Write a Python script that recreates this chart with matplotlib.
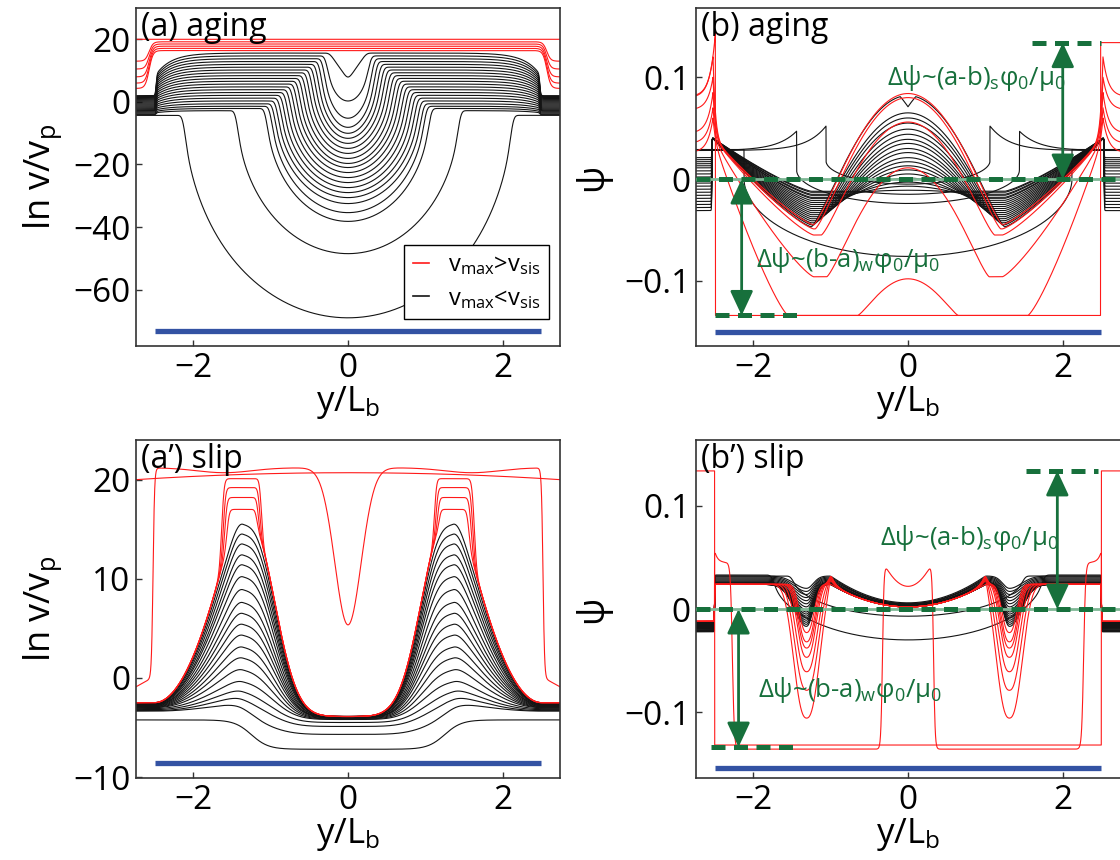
import numpy as np
import matplotlib
matplotlib.use("Agg")
import matplotlib.pyplot as plt
from matplotlib.lines import Line2D

plt.rcParams['font.family'] = ['Open Sans', 'DejaVu Sans']
plt.rcParams['mathtext.fontset'] = 'custom'
plt.rcParams['mathtext.rm'] = 'Open Sans'
plt.rcParams['mathtext.it'] = 'Open Sans'
plt.rcParams['mathtext.default'] = 'regular'

# ------------------------------------------------------------------ values
x_ticks = [-2, 0, 2]
x_limit = 2.74
fault_half = 2.5

# (a) aging law, ln(v/vp); black = slow snapshots, red = fast snapshots
aging_plateau = [15.6, 14.7, 13.8, 12.9, 12.0, 11.1, 10.2, 9.3, 8.4, 7.5, 6.6, 5.7,
                 4.8, 3.9, 3.0, 2.1, 1.2, 0.3, -0.6, -1.4, -2.1, -2.8, -4.3]
aging_floor = [7.1, 0.2, -5.3, -8.2, -10.1, -11.7, -13.3, -14.9, -16.5, -18.1, -19.7,
               -21.0, -22.6, -24.2, -25.8, -27.4, -29.0, -30.6, -32.5, -35.4, -38.2,
               -48.5, -69.0]
aging_halfwidth = [0.24, 0.28, 0.32, 0.36, 0.40, 0.44, 0.48, 0.52, 0.56, 0.60, 0.64,
                   0.68, 0.72, 0.76, 0.80, 0.84, 0.88, 0.92, 0.96, 1.00, 1.06, 1.44, 2.12]
aging_edge = [2.0, 1.7, 1.4, 1.1, 0.8, 0.5, 0.2, -0.1, -0.4, -0.7, -1.0, -1.3, -1.6,
              -1.9, -2.2, -2.5, -2.8, -3.0, -3.3, -3.6, -3.9, -4.1, -4.3]
aging_red_plateau = [20.0, 19.2, 18.5, 17.8, 17.1, 16.4]
aging_red_edge = [20.0, 13.0, 10.5, 8.0, 6.0, 4.3]
aging_bar = -73.1

# (b) aging law, psi
aging_psi_peak = [0.082, 0.065, 0.060, 0.055, 0.049, 0.044, 0.039, 0.035, 0.030, 0.026,
                  0.021, 0.017, 0.013, 0.009, 0.005, 0.001, -0.003, -0.007, -0.011, -0.015]
aging_psi_trough = [-0.047, -0.045, -0.043, -0.041, -0.039, -0.037, -0.035, -0.033, -0.031,
                    -0.029, -0.027, -0.025, -0.023, -0.021, -0.019, -0.018, -0.016, -0.015,
                    -0.013, -0.012]
aging_psi_bell = [1.25, 1.22, 1.19, 1.16, 1.13, 1.10, 1.07, 1.04, 1.01, 0.98, 0.95, 0.92,
                  0.89, 0.86, 0.83, 0.80, 0.77, 0.74, 0.71, 0.68]
aging_psi_edge = [-0.031, -0.028, -0.025, -0.022, -0.019, -0.016, -0.013, -0.010, -0.007,
                  -0.004, -0.001, 0.002, 0.005, 0.008, 0.011, 0.013, 0.015, 0.017, 0.019,
                  0.021]
aging_psi_lock_halfwidth = [1.06, 1.44, 2.12]
aging_psi_lock_peak = [0.052, 0.047, 0.029]
aging_psi_lock_step = [0.018, 0.009, 0.001]
aging_psi_lock_center = [-0.005, -0.024, -0.076]
aging_psi_lock_level = [0.028, 0.028, 0.029]
aging_red_psi_peak = [0.084, 0.080, 0.056, 0.011, -0.098]
aging_red_psi_trough = [-0.045, -0.049, -0.055, -0.096, -0.134]
aging_red_psi_bell = [1.22, 1.20, 1.12, 1.05, 0.65]
aging_red_psi_spike = [0.12, 0.10, 0.085, 0.07, 0.06]
aging_red_psi_outer = [0.081, 0.068, 0.045, 0.035, 0.026]
psi_strong = 0.134
psi_weak = -0.134
aging_rupture_spike = 0.143
aging_rupture_outer = 0.080
aging_psi_bar = -0.150

# (a') slip law, ln(v/vp)
slip_crest = [15.5, 14.5, 13.5, 12.4, 11.4, 10.2, 8.9, 7.6, 6.5, 5.4, 4.3, 3.1, 2.0,
              0.8, -0.4, -1.4, -2.2, -3.1, -5.8]
slip_center = [-3.9, -3.9, -3.9, -3.9, -3.9, -3.9, -3.95, -3.95, -4.0, -4.0, -4.0,
               -4.05, -4.1, -4.15, -4.2, -4.5, -4.9, -5.7, -7.2]
slip_edge = [-2.5, -2.5, -2.55, -2.6, -2.6, -2.65, -2.7, -2.7, -2.75, -2.8, -2.85,
             -2.9, -2.95, -3.0, -3.1, -3.2, -3.3, -3.35, -4.24]
slip_red_top = [17.0, 18.2, 19.2, 20.1]
slip_red_outer = [1.56, 1.59, 1.61, 1.63]
slip_red_inner = [1.18, 1.16, 1.14, 1.12]
slip_sweep_edge, slip_sweep_crown = 20.0, 20.7
front_crown, front_sag, front_floor = 21.2, 0.5, 5.35
front_out_far, front_out_near = -0.9, 0.0
slip_bar = -8.6

# (b') slip law, psi
slip_psi_dip = [-0.017, -0.015, -0.013, -0.011, -0.009, -0.007, -0.005, -0.003, -0.001,
                0.002, 0.005, 0.008, 0.011, 0.014, 0.017, 0.020]
slip_psi_shelf = [0.024, 0.024, 0.024, 0.024, 0.024, 0.024, 0.025, 0.025, 0.026, 0.026,
                  0.027, 0.028, 0.029, 0.030, 0.031, 0.032]
slip_psi_mid = [0.002, 0.002, 0.002, 0.002, 0.002, 0.003, 0.003, 0.003, 0.003, 0.004,
                0.004, 0.004, 0.005, 0.005, 0.005, 0.006]
slip_psi_outside = [-0.013, -0.013, -0.014, -0.014, -0.015, -0.015, -0.016, -0.016, -0.017,
                    -0.017, -0.018, -0.018, -0.019, -0.020, -0.021, -0.022]
slip_psi_arc_center = [-0.007, -0.030]
slip_psi_arc_halfwidth = [1.5, 1.75]
slip_psi_arc_shelf = [0.032, 0.033]
slip_psi_arc_outside = [-0.021, -0.022]
slip_red_psi_dip = [-0.023, -0.032, -0.038, -0.047, -0.061, -0.079, -0.106]
slip_red_psi_width = [0.12, 0.13, 0.14, 0.15, 0.17, 0.19, 0.21]
slip_red_psi_horn = [0.0, 0.004, 0.006, 0.008, 0.010, 0.013, 0.017]
front_psi_floor, front_psi_rim, front_psi_spike = -0.136, 0.045, 0.054
front_psi_mid, front_psi_horn, front_psi_outside = 0.022, 0.040, -0.012
slip_rupture_in = -0.132
slip_psi_bar = -0.154

# annotation layout (data units)
ann_b = dict(top=(1.60, 2.50), bot=(-2.49, -1.39), up_x=2.0, down_x=-2.15,
             t_top=(-0.27, 0.092), t_bot=(-1.97, -0.086))
ann_bp = dict(top=(1.53, 2.45), bot=(-2.55, -1.43), up_x=1.93, down_x=-2.19,
              t_top=(-0.36, 0.062), t_bot=(-1.94, -0.085))

RED = '#ff1a1a'
BLACK = '#141414'
BLUE = '#3352a3'
GREEN = '#17703c'
GREEN_LIGHT = '#80b896'
SPINE = '#333333'

# ------------------------------------------------------------------ profiles
grid = np.linspace(-x_limit, x_limit, 2741)
r = np.abs(grid)
dx = grid[1] - grid[0]


def step(x0, w):
    return 0.5 * (1.0 + np.tanh((r - x0) / w))


def smooth(y, sigma):
    n = max(1, int(4 * sigma / dx))
    k = np.exp(-0.5 * ((np.arange(-n, n + 1) * dx) / sigma) ** 2)
    k /= k.sum()
    return np.convolve(np.pad(y, n, mode='edge'), k, mode='valid')


def aging_lnv(plateau, floor, halfwidth, edge, notch):
    u = np.clip(r / halfwidth, 0.0, 1.0)
    dent = (1.0 - u) if notch else np.sqrt(1.0 - u ** 2)
    y = smooth(plateau - (plateau - floor) * dent, 0.03)
    s = step(2.48, 0.012)
    g = s + (1.0 - s) * 0.5 * np.exp(-np.clip(2.48 - r, 0, None) / 0.2)
    return y - (y - edge) * g


def aging_red_lnv(plateau, edge):
    return plateau - (plateau - edge) * step(2.57, 0.05)


cusp_x, cusp_psi = 2.52, 0.04


def fan_psi(peak, trough, s_in, s_out, edge, power=1.25):
    u = np.clip(r / s_in, 0.0, 1.0)
    bell = (1.0 - u ** 2) ** 1.3
    y = trough + (peak - trough) * bell
    v = np.clip((r - s_out) / (cusp_x - s_out), 0.0, 1.0)
    y = y + (cusp_psi - trough) * v ** power
    return y + (edge - y) * step(cusp_x + 0.015, 0.004)


def red_fan_psi(peak, trough, s_in, s_out, spike, outer):
    y = fan_psi(peak, trough, s_in, s_out, 0.0)
    y_in = y + (spike - cusp_psi) * np.exp(-np.abs(cusp_x - r) / 0.03)
    y_out = outer + (spike - outer) * np.exp(-np.clip(r - cusp_x, 0, None) / 0.07)
    return np.where(r <= cusp_x, y_in, y_out)


def locked_psi(halfwidth, peak, drop, center, level):
    y_out = level + (peak - level) * np.exp(-np.clip(r - halfwidth, 0, None) / 0.25)
    u = np.clip(r / halfwidth, 0.0, 1.0)
    y_in = center + (drop - center) * (1.0 - np.sqrt(1.0 - u ** 2))
    return np.where(r < halfwidth, y_in, y_out)


def aging_rupture_psi():
    left = aging_rupture_outer + (aging_rupture_spike - aging_rupture_outer) * \
        np.exp(-np.clip(r - 2.49, 0, None) / 0.07)
    return np.where(r < 2.49, psi_weak, np.where(grid < 0, left, psi_strong))


def slip_lnv(crest, center, edge):
    d = r - 1.36
    dd = np.sqrt(d ** 2 + 0.15 ** 2) - 0.15
    outer = np.clip(1.0 - dd / 1.0, 0.0, 1.0) ** 2.0
    inner = np.exp(-(dd / 0.40) ** 2)
    bump = np.where(d > 0, outer, inner)
    base = center + (edge - center) * step(1.25, 0.22)
    base_crest = center + (edge - center) * 0.5 * (1 + np.tanh(0.11 / 0.22))
    return base + max(crest - base_crest, 0.0) * bump


def slip_red_lnv(top, outer_edge, inner_edge):
    env = slip_lnv(16.5, -3.9, -2.5)
    box = step(inner_edge, 0.02) * (1.0 - step(outer_edge, 0.025))
    return smooth(env + (top - env) * box, 0.015)


def slip_sweep_lnv():
    return slip_sweep_edge + (slip_sweep_crown - slip_sweep_edge) * (1 - (grid / x_limit) ** 2)


def slip_front_lnv():
    outside = front_out_far + (front_out_near - front_out_far) * (x_limit - r) / (x_limit - 2.53)
    crown = front_crown - front_sag * np.exp(-((r - 1.6) / 0.5) ** 2)
    crown = crown - (front_crown - front_floor) * np.exp(-(grid / 0.24) ** 2)
    return outside + (crown - outside) * (1 - step(2.52, 0.02))


def slip_psi(dip, shelf, mid, outside, w_out=0.22, w_in=0.12, power=2.0, horn=0.0):
    base = np.where(r < 1.0, mid + (shelf - mid) * r ** 2, shelf)
    d = r - 1.31
    w = np.where(d > 0, w_out, w_in)
    y = base - (shelf - dip) * np.exp(-np.abs(d / w) ** power)
    y = y + horn * np.exp(-np.abs(r - 1.0) / 0.05)
    y = smooth(y, 0.01)
    return y + (outside - y) * step(2.5, 0.004)


def slip_arc_psi(center, halfwidth, shelf, outside):
    u = np.clip(r / halfwidth, 0.0, 1.0)
    y = smooth(center + (shelf - center) * (1 - np.sqrt(1 - u ** 2)), 0.03)
    return y + (outside - y) * step(2.5, 0.004)


def slip_front_psi():
    bowl = front_psi_mid + (front_psi_horn - front_psi_mid) * (r / 0.28) ** 2
    y = front_psi_floor + (bowl - front_psi_floor) * (1 - step(0.33, 0.02))
    rim = front_psi_floor + (front_psi_rim - front_psi_floor) * step(2.27, 0.025)
    rim = rim + (front_psi_spike - front_psi_rim) * np.exp(-np.clip(2.49 - r, 0, None) / 0.04)
    y = np.where(r > 1.5, rim, y)
    return np.where(r > 2.5, front_psi_outside, y)


def slip_rupture_psi():
    return np.where(r < 2.5, slip_rupture_in, psi_strong)


# ------------------------------------------------------------------ figure
fig = plt.figure(figsize=(11.2, 8.6), dpi=100)
W, H = 1120.0, 860.0


def make_axes(left, top, right, bottom):
    return fig.add_axes([left / W, 1 - bottom / H, (right - left) / W, (bottom - top) / H])


ax_a = make_axes(136, 8, 560, 346)
ax_b = make_axes(696, 8, 1120, 346)
ax_ap = make_axes(136, 440, 560, 778)
ax_bp = make_axes(696, 440, 1120, 778)

lw_k, lw_r = 0.8, 0.8

# (a)
for i in range(len(aging_plateau)):
    ax_a.plot(grid, aging_lnv(aging_plateau[i], aging_floor[i], aging_halfwidth[i],
                              aging_edge[i], i == 0), color=BLACK, lw=lw_k)
for p, e in zip(aging_red_plateau, aging_red_edge):
    ax_a.plot(grid, aging_red_lnv(p, e), color=RED, lw=lw_r)
ax_a.plot([-fault_half, fault_half], [aging_bar, aging_bar], color=BLUE, lw=3.8,
          solid_capstyle='butt', zorder=8)

# (b)
for i in range(len(aging_psi_peak)):
    y = fan_psi(aging_psi_peak[i], aging_psi_trough[i], aging_psi_bell[i], 1.25,
                aging_psi_edge[i])
    if i == 0:
        y = y - 0.011 * np.clip(1 - r / 0.1, 0, None)
    ax_b.plot(grid, y, color=BLACK, lw=lw_k)
for i in range(3):
    ax_b.plot(grid, locked_psi(aging_psi_lock_halfwidth[i], aging_psi_lock_peak[i],
                               aging_psi_lock_step[i], aging_psi_lock_center[i],
                               aging_psi_lock_level[i]), color=BLACK, lw=lw_k)
for i in range(len(aging_red_psi_peak)):
    last = i == len(aging_red_psi_peak) - 1
    s_out = 1.55 if last else 1.22
    ax_b.plot(grid, red_fan_psi(aging_red_psi_peak[i], aging_red_psi_trough[i],
                                aging_red_psi_bell[i], s_out,
                                aging_red_psi_spike[i], aging_red_psi_outer[i]),
              color=RED, lw=lw_r)
ax_b.plot(grid, aging_rupture_psi(), color=RED, lw=lw_r)
ax_b.plot([-fault_half, fault_half], [aging_psi_bar, aging_psi_bar], color=BLUE, lw=3.8,
          solid_capstyle='butt', zorder=8)

# (a')
for i in range(len(slip_crest)):
    ax_ap.plot(grid, slip_lnv(slip_crest[i], slip_center[i], slip_edge[i]),
               color=BLACK, lw=lw_k)
for i in range(len(slip_red_top)):
    ax_ap.plot(grid, slip_red_lnv(slip_red_top[i], slip_red_outer[i], slip_red_inner[i]),
               color=RED, lw=lw_r)
ax_ap.plot(grid, slip_sweep_lnv(), color=RED, lw=lw_r)
ax_ap.plot(grid, slip_front_lnv(), color=RED, lw=lw_r)
ax_ap.plot([-fault_half, fault_half], [slip_bar, slip_bar], color=BLUE, lw=3.8,
           solid_capstyle='butt', zorder=8)

# (b')
for i in range(len(slip_psi_dip)):
    ax_bp.plot(grid, slip_psi(slip_psi_dip[i], slip_psi_shelf[i], slip_psi_mid[i],
                              slip_psi_outside[i]), color=BLACK, lw=lw_k)
for i in range(len(slip_psi_arc_center)):
    ax_bp.plot(grid, slip_arc_psi(slip_psi_arc_center[i], slip_psi_arc_halfwidth[i],
                                  slip_psi_arc_shelf[i], slip_psi_arc_outside[i]),
               color=BLACK, lw=lw_k)
for i in range(len(slip_red_psi_dip)):
    w = slip_red_psi_width[i]
    ax_bp.plot(grid, slip_psi(slip_red_psi_dip[i], 0.024, 0.002, -0.012, w_out=w, w_in=w,
                              power=2.5, horn=slip_red_psi_horn[i]), color=RED, lw=lw_r)
ax_bp.plot(grid, slip_front_psi(), color=RED, lw=lw_r)
ax_bp.plot(grid, slip_rupture_psi(), color=RED, lw=lw_r)
ax_bp.plot([-fault_half, fault_half], [slip_psi_bar, slip_psi_bar], color=BLUE, lw=3.8,
           solid_capstyle='butt', zorder=8)


# ------------------------------------------------------------------ annotations
def psi_annotations(ax, a):
    dash = dict(color=GREEN, lw=3.6, dashes=(2.8, 1.7), solid_capstyle='butt', zorder=9)
    ax.axhline(0.0, color=GREEN_LIGHT, lw=2.0, zorder=9)
    ax.axhline(0.0, **dash)
    ax.plot(a['top'], [psi_strong, psi_strong], **dash)
    ax.plot(a['bot'], [psi_weak, psi_weak], **dash)
    arrow = dict(arrowstyle='<|-|>,head_length=0.75,head_width=0.35', color=GREEN,
                 lw=2.0, shrinkA=0, shrinkB=0, mutation_scale=20)
    ax.annotate('', xy=(a['up_x'], psi_strong), xytext=(a['up_x'], 0.0),
                arrowprops=arrow, zorder=10)
    ax.annotate('', xy=(a['down_x'], psi_weak), xytext=(a['down_x'], 0.0),
                arrowprops=arrow, zorder=10)
    ax.text(*a['t_top'], r'Δψ~(a-b)$_{s}$φ$_{0}$/μ$_{0}$', color=GREEN, fontsize=18.5,
            zorder=11)
    ax.text(*a['t_bot'], r'Δψ~(b-a)$_{w}$φ$_{0}$/μ$_{0}$', color=GREEN, fontsize=18.5,
            zorder=11)


psi_annotations(ax_b, ann_b)
psi_annotations(ax_bp, ann_bp)

# ------------------------------------------------------------------ axes styling
panels = [
    (ax_a, '(a) aging', r'ln v/v$_{p}$', (-78, 30), [-60, -40, -20, 0, 20], None),
    (ax_b, '(b) aging', 'ψ', (-0.164, 0.168), [-0.1, 0, 0.1], ['−0.1', '0', '0.1']),
    (ax_ap, '(a’) slip', r'ln v/v$_{p}$', (-10.1, 24), [-10, 0, 10, 20], None),
    (ax_bp, '(b’) slip', 'ψ', (-0.164, 0.164), [-0.1, 0, 0.1], ['−0.1', '0', '0.1']),
]
for ax, title, ylab, ylim, yt, ytl in panels:
    ax.set_xlim(-x_limit, x_limit)
    ax.set_ylim(*ylim)
    ax.set_xticks(x_ticks)
    ax.set_yticks(yt)
    if ytl:
        ax.set_yticklabels(ytl)
    ax.tick_params(direction='in', length=4, width=1, labelsize=24, pad=4,
                   top=False, right=False, color=SPINE)
    for sp in ax.spines.values():
        sp.set_color(SPINE)
        sp.set_linewidth(1.2)
    ax.set_xlabel(r'y/L$_{b}$', fontsize=25)
    ax.xaxis.set_label_coords(0.5, -0.112)
    ax.set_ylabel(ylab, fontsize=26)
    ax.yaxis.set_label_coords(-0.17 if 'ln' in ylab else -0.2, 0.5)
    ax.text(0.012, 0.99, title, transform=ax.transAxes, fontsize=23, va='top',
            ha='left', zorder=12)

ax_b.spines['right'].set_visible(False)
ax_bp.spines['right'].set_visible(False)

handles = [Line2D([], [], color=RED, lw=1.2), Line2D([], [], color=BLACK, lw=1.2)]
labels = [r'$v_{max}$>$v_{sis}$', r'$v_{max}$<$v_{sis}$']
leg = ax_a.legend(handles, labels, loc='lower right', bbox_to_anchor=(0.974, 0.08),
                  borderaxespad=0, fontsize=17, handlelength=0.7, handletextpad=0.8,
                  labelspacing=0.4, borderpad=0.35, fancybox=False, framealpha=1)
leg.get_frame().set_edgecolor('black')
leg.get_frame().set_linewidth(1.0)
leg.set_zorder(20)

fig.savefig('out.png', dpi=100)
